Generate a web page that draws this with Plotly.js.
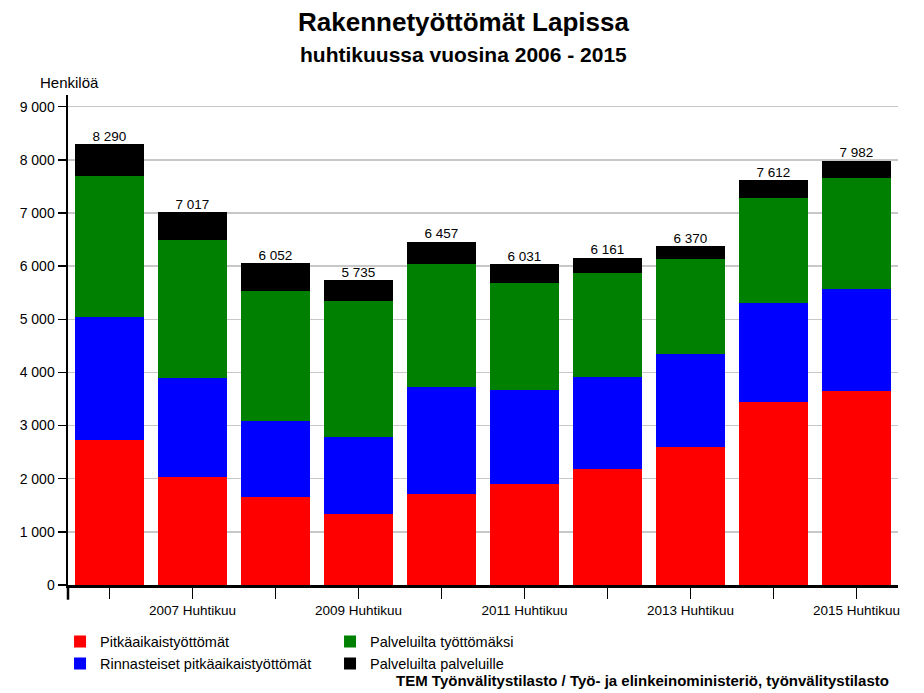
<!DOCTYPE html>
<html>
<head>
<meta charset="utf-8">
<script src="https://cdn.plot.ly/plotly-3.0.1.min.js"></script>
<style>html,body{margin:0;padding:0;background:#fff;}#chart{width:924px;height:693px;}</style>
</head>
<body>
<div id="chart"></div>
<script>
const categories = ["2006 Huhtikuu","2007 Huhtikuu","2008 Huhtikuu","2009 Huhtikuu","2010 Huhtikuu","2011 Huhtikuu","2012 Huhtikuu","2013 Huhtikuu","2014 Huhtikuu","2015 Huhtikuu"];
const tickLabels = ["","2007 Huhtikuu","","2009 Huhtikuu","","2011 Huhtikuu","","2013 Huhtikuu","","2015 Huhtikuu"];
const pitkaaikais = [2730, 2040, 1656, 1330, 1720, 1906, 2190, 2594, 3450, 3656];
const rinnasteiset = [2320, 1850, 1438, 1450, 2010, 1754, 1730, 1750, 1863, 1919];
const palvTyottomaksi = [2640, 2600, 2446, 2560, 2310, 2030, 1960, 1781, 1962, 2075];
const palvPalveluille = [600, 527, 512, 395, 417, 341, 281, 245, 337, 332];

const totals = categories.map((c, i) => pitkaaikais[i] + rinnasteiset[i] + palvTyottomaksi[i] + palvPalveluille[i]);
const fmt = v => String(v).replace(/\B(?=(\d{3})+(?!\d))/g, " ");

const font = "Liberation Sans, Arial, sans-serif";
function bar(name, y, color, legend) {
  return {type: "bar", name: name, x: categories, y: y, legend: legend,
    marker: {color: color, line: {width: 0}}, hoverinfo: "y+name"};
}
const data = [
  bar("Pitkäaikaistyöttömät", pitkaaikais, "#ff0000", "legend"),
  bar("Rinnasteiset pitkäaikaistyöttömät", rinnasteiset, "#0000ff", "legend"),
  bar("Palveluilta työttömäksi", palvTyottomaksi, "#008000", "legend2"),
  bar("Palveluilta palveluille", palvPalveluille, "#000000", "legend2"),
  {type: "scatter", mode: "text", x: categories, y: totals, text: totals.map(fmt),
   textposition: "top center", textfont: {family: font, size: 13.5, color: "#000"},
   showlegend: false, hoverinfo: "skip", cliponaxis: false}
];

const legendCommon = {yanchor: "top", orientation: "v", traceorder: "normal",
  font: {family: font, size: 14.5}, tracegroupgap: 0, itemwidth: 30, bgcolor: "rgba(0,0,0,0)"};

const layout = {
  width: 924, height: 693,
  margin: {l: 68, r: 26, t: 95, b: 108},
  paper_bgcolor: "#fff", plot_bgcolor: "#fff",
  barmode: "stack", bargap: 0.17,
  separators: ", ",
  font: {family: font, size: 13, color: "#000"},
  xaxis: {type: "category", tickmode: "array", tickvals: categories, ticktext: tickLabels,
          ticks: "outside", ticklen: 11, tickwidth: 1.5, tickcolor: "#000",
          showline: true, linecolor: "#000", linewidth: 2.5, showgrid: false,
          tickfont: {family: font, size: 13.5}, range: [-0.5, 9.5], fixedrange: true},
  yaxis: {range: [0, 9220], tickvals: [0,1000,2000,3000,4000,5000,6000,7000,8000,9000],
          tickformat: ",d", ticks: "outside", ticklen: 8, tickwidth: 1.5, tickcolor: "#000",
          showline: true, linecolor: "#000", linewidth: 2.5,
          showgrid: true, gridcolor: "#c8c8c8", gridwidth: 1.5, zeroline: false,
          tickfont: {family: font, size: 14}, fixedrange: true},
  showlegend: true,
  legend: Object.assign({x: -0.0096, xanchor: "left", y: -0.083}, legendCommon),
  legend2: Object.assign({x: 0.3157, xanchor: "left", y: -0.083}, legendCommon),
  annotations: [
    {text: "<b>Rakennetyöttömät Lapissa</b>", xref: "paper", yref: "paper", x: 0.476, y: 1.149,
     xanchor: "center", yanchor: "middle", showarrow: false, font: {family: font, size: 26}},
    {text: "<b>huhtikuussa vuosina 2006 - 2015</b>", xref: "paper", yref: "paper", x: 0.476, y: 1.082,
     xanchor: "center", yanchor: "middle", showarrow: false, font: {family: font, size: 21}},
    {text: "Henkilöä", xref: "paper", yref: "paper", x: -0.036, y: 1.0, xanchor: "left", yanchor: "bottom",
     showarrow: false, font: {family: font, size: 15}, yshift: 2},
    {text: "<b>TEM Työnvälitystilasto / Työ- ja elinkeinoministeriö, työnvälitystilasto</b>", xref: "paper", yref: "paper",
     x: 0.991, y: -0.194, xanchor: "right", yanchor: "middle", showarrow: false, font: {family: font, size: 15}}
  ],
  shapes: [
    {type: "line", xref: "paper", yref: "paper", x0: 0, x1: 0, y0: 0, y1: -0.03, line: {color: "#000", width: 2.5}}
  ]
};

Plotly.newPlot("chart", data, layout, {displayModeBar: false, staticPlot: true});
</script>
</body>
</html>
